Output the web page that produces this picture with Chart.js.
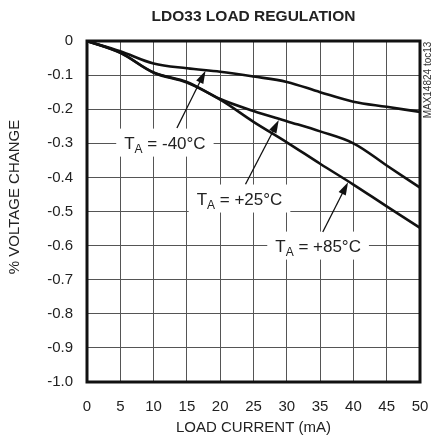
<!DOCTYPE html>
<html>
<head>
<meta charset="utf-8">
<script src="https://cdn.jsdelivr.net/npm/chart.js@4"></script>
<style>
  html, body { margin: 0; padding: 0; background: #fff; }
  #wrap { width: 434px; height: 438px; }
</style>
</head>
<body>
<div id="wrap"><canvas id="myChart" width="434" height="438"></canvas></div>
<script>
// load current (mA)
const current = [0, 5, 10, 15, 20, 25, 30, 35, 40, 45, 50];
// % voltage change per temperature
const tMinus40 = [0, -0.03, -0.066, -0.08, -0.09, -0.104, -0.12, -0.15, -0.178, -0.193, -0.208];
const tPlus25 = [0, -0.034, -0.092, -0.12, -0.17, -0.205, -0.235, -0.265, -0.30, -0.365, -0.43];
const tPlus85 = [0, -0.035, -0.093, -0.122, -0.172, -0.237, -0.297, -0.36, -0.421, -0.485, -0.548];

const xTickLabels = ['0', '5', '10', '15', '20', '25', '30', '35', '40', '45', '50'];
const yTickLabels = ['0', '-0.1', '-0.2', '-0.3', '-0.4', '-0.5', '-0.6', '-0.7', '-0.8', '-0.9', '-1.0'];

// label boxes: [temp, label centre x, y, arrow tail x, y, arrow tip x, y] in data units
const callouts = [
  ['-40°C', 11.7, -0.298, 13.5, -0.255, 17.8, -0.087],
  ['+25°C', 22.9, -0.462, 23.8, -0.42, 28.8, -0.232],
  ['+85°C', 34.7, -0.6, 35.4, -0.56, 39.2, -0.414]
];

const FONT = '"Liberation Sans", Arial, sans-serif';

function pts(ys) {
  return current.map((x, i) => ({ x: x, y: ys[i] }));
}

const decor = {
  id: 'decor',
  afterDatasetsDraw(chart) {
    const c = chart.ctx;
    const xs = chart.scales.x, ys = chart.scales.y;
    const a = chart.chartArea;
    c.save();
    // callouts
    callouts.forEach(co => {
      const lx = xs.getPixelForValue(co[1]), ly = ys.getPixelForValue(co[2]);
      const rest = ' = ' + co[0];
      c.font = '17px ' + FONT;
      const wT = c.measureText('T').width;
      c.font = '12px ' + FONT;
      const wA = c.measureText('A').width;
      c.font = '17px ' + FONT;
      const wR = c.measureText(rest).width;
      const w = wT + wA + wR;
      c.fillStyle = '#fff';
      c.fillRect(lx - w / 2 - 8, ly - 14, w + 16, 28);
      c.fillStyle = '#222';
      c.textBaseline = 'alphabetic';
      c.textAlign = 'left';
      const x0 = lx - w / 2;
      c.fillText('T', x0, ly + 6);
      c.font = '12px ' + FONT;
      c.fillText('A', x0 + wT, ly + 10);
      c.font = '17px ' + FONT;
      c.fillText(rest, x0 + wT + wA, ly + 6);
      // arrow
      const tx = xs.getPixelForValue(co[3]), ty = ys.getPixelForValue(co[4]);
      const hx = xs.getPixelForValue(co[5]), hy = ys.getPixelForValue(co[6]);
      const ang = Math.atan2(hy - ty, hx - tx);
      c.strokeStyle = '#111';
      c.lineWidth = 1.3;
      c.beginPath();
      c.moveTo(tx, ty);
      c.lineTo(hx - Math.cos(ang) * 8, hy - Math.sin(ang) * 8);
      c.stroke();
      c.fillStyle = '#111';
      c.beginPath();
      c.moveTo(hx, hy);
      c.lineTo(hx - Math.cos(ang) * 13 + Math.sin(ang) * 4, hy - Math.sin(ang) * 13 - Math.cos(ang) * 4);
      c.lineTo(hx - Math.cos(ang) * 13 - Math.sin(ang) * 4, hy - Math.sin(ang) * 13 + Math.cos(ang) * 4);
      c.closePath();
      c.fill();
    });
    // frame
    c.strokeStyle = '#111';
    c.lineWidth = 3;
    c.strokeRect(a.left, a.top, a.right - a.left, a.bottom - a.top);
    // titles
    c.fillStyle = '#222';
    c.textAlign = 'center';
    c.textBaseline = 'middle';
    c.font = 'bold 15.5px ' + FONT;
    c.fillText('LDO33 LOAD REGULATION', (a.left + a.right) / 2, 17);
    c.font = '15px ' + FONT;
    c.fillText('LOAD CURRENT (mA)', (a.left + a.right) / 2, 428);
    c.save();
    c.translate(15, 197);
    c.rotate(-Math.PI / 2);
    c.fillText('% VOLTAGE CHANGE', 0, 0);
    c.restore();
    c.save();
    c.translate(428, 80);
    c.rotate(-Math.PI / 2);
    c.font = '10px ' + FONT;
    c.fillStyle = '#333';
    c.fillText('MAX14824 toc13', 0, 0);
    c.restore();
    c.restore();
  }
};

const line = (data) => ({
  data: pts(data),
  borderColor: '#111',
  borderWidth: 2.6,
  pointRadius: 0,
  tension: 0.35,
  fill: false
});

new Chart(document.getElementById('myChart'), {
  type: 'line',
  data: {
    datasets: [line(tMinus40), line(tPlus25), line(tPlus85)]
  },
  options: {
    responsive: false,
    animation: false,
    layout: { padding: { top: 41, right: 14, left: 0, bottom: 0 } },
    plugins: { legend: { display: false }, tooltip: { enabled: false } },
    scales: {
      x: {
        type: 'linear',
        min: 0, max: 50,
        grid: { color: '#555', lineWidth: 1, drawTicks: false },
        border: { display: false },
        ticks: {
          stepSize: 5, padding: 16, color: '#222',
          font: { family: FONT, size: 15 },
          callback: (v) => xTickLabels[Math.round(v / 5)]
        },
        afterFit: (s) => { s.height = 56; s.paddingLeft = 0; s.paddingRight = 0; }
      },
      y: {
        min: -1, max: 0,
        grid: { color: '#555', lineWidth: 1, drawTicks: false },
        border: { display: false },
        ticks: {
          stepSize: 0.1, padding: 14, color: '#222',
          font: { family: FONT, size: 15 },
          callback: (v) => yTickLabels[Math.round(-v * 10)]
        },
        afterFit: (s) => { s.width = 87; s.paddingTop = 0; s.paddingBottom = 0; }
      }
    }
  },
  plugins: [decor]
});
</script>
</body>
</html>
